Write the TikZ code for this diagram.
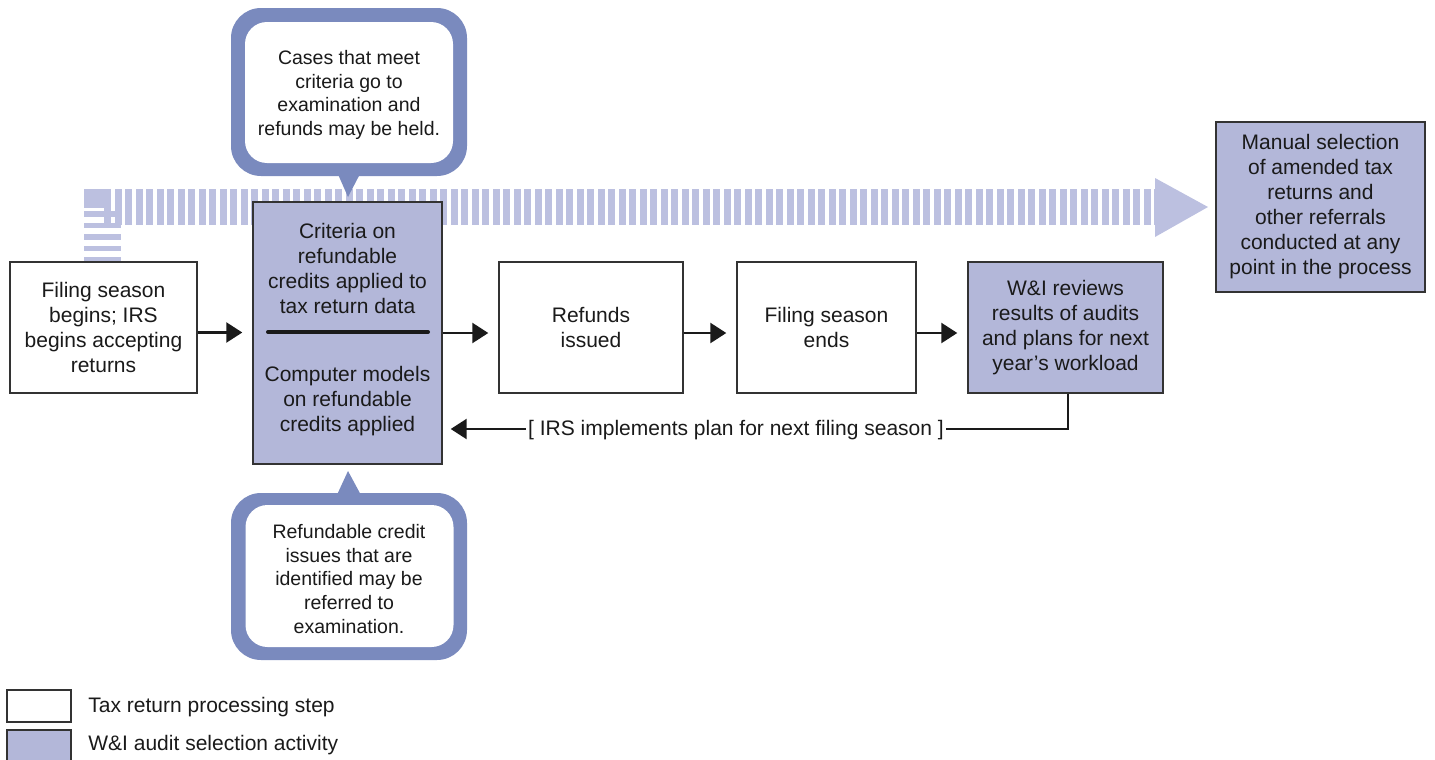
\documentclass[tikz,border=0pt]{standalone}
\usepackage{fontspec}
\setmainfont{Liberation Sans}
\usetikzlibrary{arrows.meta}
\definecolor{boxpurple}{HTML}{B3B7D9}
\definecolor{stripecol}{HTML}{BCC0E0}
\definecolor{framecol}{HTML}{7A8ABE}
\definecolor{edgecol}{HTML}{333333}
\definecolor{txtcol}{HTML}{1A1A1A}
\begin{document}
\begin{tikzpicture}[x=0.5pt,y=-0.5pt,
  every node/.style={font=\fontsize{10.5}{12.5}\selectfont, align=center, inner sep=0pt, text=txtcol},
  proc/.style={draw=edgecol, line width=0.7pt, fill=white},
  wibox/.style={draw=edgecol, line width=0.7pt, fill=boxpurple},
  arr/.style={line width=1.2pt, draw=txtcol, -{Triangle[length=8pt,width=10pt]}, shorten >=5pt},
  calltext/.style={font=\fontsize{9.75}{11.8}\selectfont},
  callout/.style={fill=framecol, rounded corners=15pt, minimum width=118pt},
  callin/.style={fill=white, rounded corners=11pt, minimum width=104pt},
]
\useasboundingbox (0,0) rectangle (1435,760);

% striped arrow
\fill[stripecol] (84,189) rectangle (104,208);
\foreach \x in {104,114.5,...,1154} \fill[stripecol] (\x,189) rectangle ++(7,36);
\foreach \y in {211,222.5,234,245.5,257} \fill[stripecol] (84,\y) rectangle (121,\y+5.5);
\fill[stripecol] (1155,178) -- (1208,207) -- (1155,237) -- cycle;

% main boxes
\node[proc, minimum width=93.5pt, minimum height=65.5pt] (a) at (103.5,327.5)
  {Filing season\\begins; IRS\\begins accepting\\returns};
\node[wibox, minimum width=94.5pt, minimum height=131pt] (b) at (347.5,333) {};
\node (b1) at (347.5,268) {Criteria on\\refundable\\credits applied to\\tax return data};
\node (b2) at (347.5,401) {Computer models\\on refundable\\credits applied};
\draw[line width=2pt, draw=txtcol, line cap=round] (268,332) -- (428,332);
\node[proc, minimum width=92pt, minimum height=65.5pt] (c) at (591,327.5) {Refunds\\issued};
\node[proc, minimum width=89.5pt, minimum height=65.5pt] (d) at (826.5,327.5) {Filing season\\ends};
\node[wibox, minimum width=97.5pt, minimum height=65.5pt] (e) at (1065.5,327.5)
  {W\&I reviews\\results of audits\\and plans for next\\year’s workload};
\node[wibox, minimum width=104.5pt, minimum height=85pt] (f) at (1320.5,207)
  {Manual selection\\of amended tax\\returns and\\other referrals\\conducted at any\\point in the process};

% arrows
\draw[arr] ([yshift=-2.5pt]a.east) -- ([yshift=-2.5pt]a.east -| b.west);
\draw[arr] (b.east |- 0,333) -- (c.west |- 0,333);
\draw[arr] (c.east |- 0,333) -- (d.west |- 0,333);
\draw[arr] (d.east |- 0,333) -- (e.west |- 0,333);
\coordinate (fb) at (1068,429);
\draw[arr, shorten >=4pt] (e.south -| fb) |- (b.east |- fb);
\node[fill=white, inner xsep=1pt, inner ysep=2pt] (fbt) at (736,430) {[ IRS implements plan for next filing season ]};

% top callout
\node[callout, minimum height=84pt] (co1) at (349,92) {};
\fill[framecol] (337,172) -- (361,172) -- (348,197) -- cycle;
\node[callin, minimum height=70.5pt] (ci1) at (349,92.5) {};
\node[calltext] (t1) at (349,95) {Cases that meet\\criteria go to\\examination and\\refunds may be held.};

% bottom callout
\node[callout, minimum height=83.5pt] (co2) at (349,576.5) {};
\fill[framecol] (336,497) -- (362,497) -- (348,471) -- cycle;
\node[callin, minimum height=71pt] (ci2) at (349.5,576) {};
\node[calltext] (t2) at (349,579) {Refundable credit\\issues that are\\identified may be\\referred to\\examination.};

% legend
\node[proc, minimum width=32pt, minimum height=16pt] (l1) at (39,706) {};
\node[wibox, minimum width=32pt, minimum height=16pt] (l2) at (39,746) {};
\node[anchor=west] (l1t) at (88,707) {Tax return processing step};
\node[anchor=west] (l2t) at (88,745) {W\&I audit selection activity};
\end{tikzpicture}
\end{document}
